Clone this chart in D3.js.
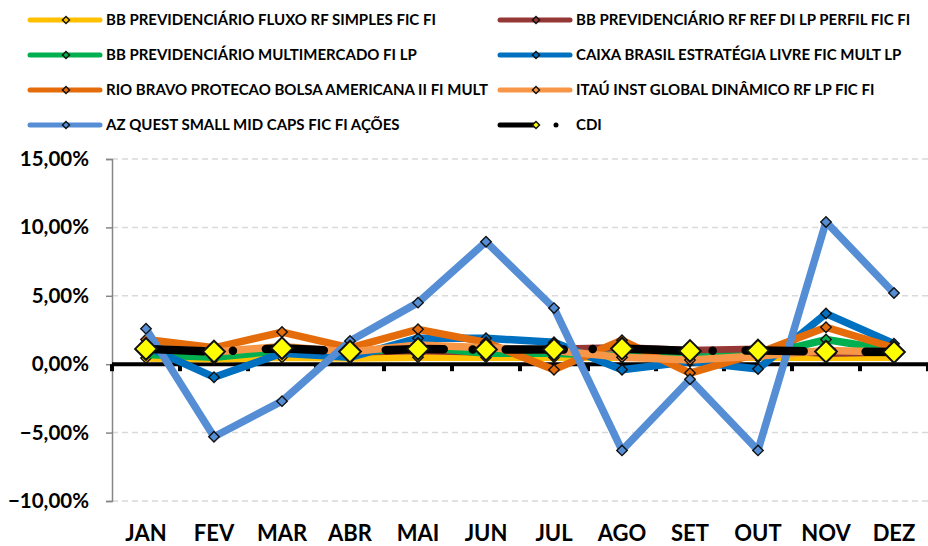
<!DOCTYPE html>
<html>
<head>
<meta charset="utf-8">
<script src="https://cdn.jsdelivr.net/npm/d3@7"></script>
<style>
  body { margin: 0; background: #fff; }
  svg { display: block; font-family: Lato, "Open Sans", sans-serif; font-weight: bold; }
</style>
</head>
<body>
<script>
// meses
const months = ["JAN", "FEV", "MAR", "ABR", "MAI", "JUN", "JUL", "AGO", "SET", "OUT", "NOV", "DEZ"];

// rentabilidade mensal (%)
const bbFluxo   = [0.45, 0.40, 0.50, 0.45, 0.50, 0.50, 0.50, 0.50, 0.50, 0.50, 0.50, 0.50];
const bbRefDi   = [1.10, 0.90, 1.00, 0.90, 1.00, 0.90, 1.10, 1.20, 1.00, 1.10, 0.80, 0.90];
const bbMulti   = [0.70, 0.50, 1.00, 0.80, 1.30, 0.80, 0.80, 0.60, 0.50, 0.60, 1.80, 1.00];
const caixa     = [1.30, -0.95, 0.80, 0.50, 1.90, 1.90, 1.60, -0.40, 0.20, -0.35, 3.70, 1.50];
const rioBravo  = [1.80, 1.20, 2.35, 1.20, 2.55, 1.60, -0.40, 1.75, -0.65, 0.80, 2.70, 1.20];
const itau      = [1.20, 0.90, 1.30, 0.90, 1.40, 1.20, 1.00, 0.50, 0.30, 0.60, 1.00, 0.90];
const azQuest   = [2.60, -5.30, -2.70, 1.70, 4.50, 8.95, 4.10, -6.30, -1.10, -6.30, 10.40, 5.20];
const cdi       = [1.12, 0.92, 1.17, 0.92, 1.12, 1.07, 1.07, 1.14, 0.97, 1.00, 0.92, 0.89];

const seriesNames = [
  "BB PREVIDENCIÁRIO FLUXO RF SIMPLES FIC FI",
  "BB PREVIDENCIÁRIO RF REF DI LP PERFIL FIC FI",
  "BB PREVIDENCIÁRIO MULTIMERCADO FI LP",
  "CAIXA BRASIL ESTRATÉGIA LIVRE FIC MULT LP",
  "RIO BRAVO PROTECAO BOLSA AMERICANA II FI MULT",
  "ITAÚ INST GLOBAL DINÂMICO RF LP FIC FI",
  "AZ QUEST SMALL MID CAPS FIC FI AÇÕES",
  "CDI"
];
const seriesColors = ["#FFC000", "#953735", "#00B050", "#0070C0", "#E46C0A", "#F79646", "#558ED5", "#000000"];

const yTicks = [-10, -5, 0, 5, 10, 15];

const series = [bbFluxo, bbRefDi, bbMulti, caixa, rioBravo, itau, azQuest, cdi].map((values, i) => ({
  name: seriesNames[i],
  color: seriesColors[i],
  cdi: i === 7,
  values: values.map((v, j) => ({month: months[j], value: v}))
}));

const width = 928, height = 546;
const margin = {top: 159, right: 0, bottom: 45, left: 112};

const svg = d3.select("body").append("svg")
  .attr("width", width)
  .attr("height", height);

const x = d3.scaleBand()
  .domain(months)
  .range([margin.left, width - margin.right]);

const y = d3.scaleLinear()
  .domain([-10, 15])
  .range([height - margin.bottom, margin.top]);

// grid
svg.append("g")
  .selectAll("line")
  .data(yTicks.filter(d => d !== 0))
  .join("line")
    .attr("x1", margin.left)
    .attr("x2", width)
    .attr("y1", d => y(d))
    .attr("y2", d => y(d))
    .attr("stroke", "#D9D9D9")
    .attr("stroke-width", 1.5)
    .attr("stroke-dasharray", "6,4");

// eixo y
const yAxis = svg.append("g")
  .attr("transform", `translate(${margin.left},0)`)
  .call(d3.axisLeft(y).tickValues(yTicks).tickSize(6).tickPadding(17)
    .tickFormat(d => d3.format(".2f")(d).replace(".", ",") + "%"));
yAxis.select(".domain").attr("stroke", "#868686").attr("stroke-width", 1.5);
yAxis.selectAll(".tick line").attr("stroke", "#868686").attr("stroke-width", 1.5);
yAxis.selectAll(".tick text")
  .attr("fill", "#000")
  .style("font-size", "20.5px")
  .style("font-weight", "bold")
  .style("font-family", "Lato, sans-serif");

// eixo x (linha do zero)
const xAxis = svg.append("g")
  .attr("transform", `translate(0,${y(0)})`);
xAxis.append("line")
  .attr("x1", margin.left).attr("x2", width)
  .attr("stroke", "#000").attr("stroke-width", 4);
xAxis.selectAll("line.tk")
  .data(d3.range(months.length + 1))
  .join("line")
    .attr("class", "tk")
    .attr("x1", i => margin.left + i * x.step())
    .attr("x2", i => margin.left + i * x.step())
    .attr("y1", 0).attr("y2", 7)
    .attr("stroke", "#000").attr("stroke-width", 4);

svg.append("g")
  .selectAll("text")
  .data(months)
  .join("text")
    .attr("x", d => x(d) + x.bandwidth() / 2)
    .attr("y", 541)
    .attr("text-anchor", "middle")
    .style("font-size", "22px")
    .text(d => d);

// linhas
const line = d3.line()
  .x(d => x(d.month) + x.bandwidth() / 2)
  .y(d => y(d.value));

const diamond = d3.symbol().type(d3.symbolDiamond2);

const g = svg.append("g")
  .selectAll("g")
  .data(series)
  .join("g");

g.append("path")
  .attr("d", d => line(d.values))
  .attr("fill", "none")
  .attr("stroke", d => d.color)
  .attr("stroke-width", d => d.cdi ? 8.5 : 7.5)
  .attr("stroke-linejoin", "round")
  .attr("stroke-linecap", d => d.cdi ? "round" : "butt")
  .attr("stroke-dasharray", d => d.cdi ? "58,29,0,33" : null);

g.selectAll("path.mk")
  .data(d => d.values.map(v => ({...v, s: d})))
  .join("path")
    .attr("class", "mk")
    .attr("transform", d => `translate(${x(d.month) + x.bandwidth() / 2},${y(d.value)})`)
    .attr("d", d => diamond.size(d.s.cdi ? 300 : 70)())
    .attr("fill", d => d.s.cdi ? "#FFFF00" : d.s.color)
    .attr("stroke", "#111")
    .attr("stroke-width", d => d.s.cdi ? 2 : 1.4);

// legenda
const legend = svg.append("g")
  .selectAll("g")
  .data(series)
  .join("g")
    .attr("transform", (d, i) => `translate(${i % 2 ? 500 : 30},${20 + Math.floor(i / 2) * 35})`);

legend.append("line")
  .attr("x1", 0)
  .attr("x2", d => d.cdi ? 36 : 70)
  .attr("stroke", d => d.color)
  .attr("stroke-width", 5)
  .attr("stroke-linecap", "round");

legend.filter(d => d.cdi).append("circle")
  .attr("cx", 56).attr("r", 2.5).attr("fill", "#000");

legend.append("path")
  .attr("transform", "translate(36,0)")
  .attr("d", diamond.size(32)())
  .attr("fill", d => d.cdi ? "#FFFF00" : d.color)
  .attr("stroke", "#111")
  .attr("stroke-width", 1.4);

legend.append("text")
  .attr("x", 76)
  .attr("dy", "0.35em")
  .style("font-size", "15px")
  .text(d => d.name);
</script>
</body>
</html>
